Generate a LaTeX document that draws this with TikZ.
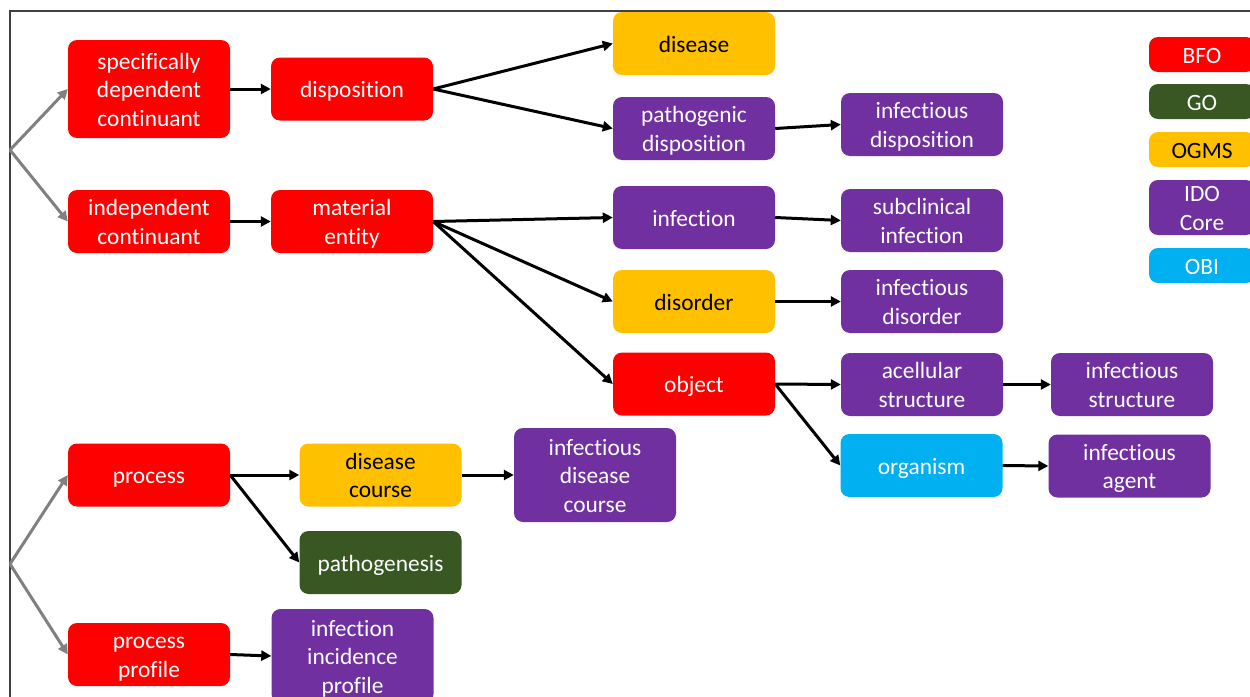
\documentclass[tikz,border=0pt]{standalone}
\usepackage{fontspec}
\setmainfont{Carlito}[Ligatures=NoCommon]
\usetikzlibrary{arrows.meta}
\definecolor{bfo}{HTML}{FF0000}
\definecolor{go}{HTML}{385723}
\definecolor{ogms}{HTML}{FFC000}
\definecolor{ido}{HTML}{7030A0}
\definecolor{obi}{HTML}{00B0F0}
\definecolor{framecol}{HTML}{404040}
\definecolor{graycol}{HTML}{808080}
\newcommand\tx[1]{\rule{0pt}{24pt}#1\rule[-7pt]{0pt}{7pt}}
\tikzset{
  box/.style={rounded corners=9pt, minimum width=162pt, minimum height=63pt, inner sep=0pt, align=center,
     font=\fontsize{23.4}{28.5}\selectfont, text=white},
  bfobox/.style={box, fill=bfo},
  gobox/.style={box, fill=go},
  ogmsbox/.style={box, fill=ogms, text=black},
  idobox/.style={box, fill=ido},
  obibox/.style={box, fill=obi},
  leg/.style={minimum width=106pt, minimum height=35pt},
  arr/.style={line width=3pt, -{Triangle[length=10pt,width=10pt]}},
  garr/.style={arr, draw=graycol, color=graycol},
}
\begin{document}
\begin{tikzpicture}[x=1pt,y=-1pt]
\useasboundingbox (0,0) rectangle (1250,696);
\draw[framecol, line width=2pt] (10,720) -- (10,11) -- (1270,11);

% legend
\node[bfobox, leg] (lbfo) at (1202,54.5) {\tx{BFO}};
\node[gobox, leg] (lgo) at (1202,101.5) {\tx{GO}};
\node[ogmsbox, leg] (logms) at (1202,149.5) {\tx{OGMS}};
\node[idobox, leg, minimum height=55pt] (lido) at (1202,207.5) {\rule{0pt}{20pt}IDO\\Core\rule[-3pt]{0pt}{3pt}};
\node[obibox, leg] (lobi) at (1202,265.5) {\tx{OBI}};

% nodes
\node[bfobox, minimum height=98pt] (sdc) at (149,89) {\tx{specifically\\dependent\\continuant}};
\node[bfobox] (disp) at (352,89) {\tx{disposition}};
\node[ogmsbox] (disease) at (694,43.5) {\tx{disease}};
\node[idobox] (pathdisp) at (694,128.5) {\tx{pathogenic\\disposition}};
\node[idobox] (infdisp) at (922,124.5) {\tx{infectious\\disposition}};
\node[bfobox] (ic) at (149,221.5) {\tx{independent\\continuant}};
\node[bfobox] (me) at (352,221.5) {\tx{material\\entity}};
\node[idobox] (infection) at (694,217.5) {\tx{infection}};
\node[idobox] (subinf) at (922,220.5) {\tx{subclinical\\infection}};
\node[ogmsbox] (disorder) at (694,301.5) {\tx{disorder}};
\node[idobox] (infdisorder) at (922,301.5) {\tx{infectious\\disorder}};
\node[bfobox] (object) at (694,384) {\tx{object}};
\node[idobox] (acell) at (922,384.5) {\tx{acellular\\structure}};
\node[idobox] (infstruct) at (1132,384.5) {\tx{infectious\\structure}};
\node[obibox] (organism) at (921.5,465.5) {\tx{organism}};
\node[idobox] (infagent) at (1129.5,466) {\tx{infectious\\agent}};
\node[bfobox] (process) at (149,475) {\tx{process}};
\node[ogmsbox] (dcourse) at (380.5,475) {\tx{disease\\course}};
\node[idobox, minimum height=94pt] (idcourse) at (595,475) {\tx{infectious\\disease\\course}};
\node[gobox] (pathogenesis) at (380.5,562.5) {\tx{pathogenesis}};
\node[bfobox] (pprofile) at (149,654.5) {\tx{process\\profile}};
\node[idobox, minimum height=94pt] (iiprofile) at (352.5,656) {\tx{infection\\incidence\\profile}};

\coordinate (g1) at (10,150);
\coordinate (g2) at (10,564);

% gray arrows
\draw[garr] (g1) -- (sdc.west);
\draw[garr] (g1) -- (ic.west);
\draw[garr] (g2) -- (process.west);
\draw[garr] (g2) -- (pprofile.west);

% black arrows
\draw[arr] (sdc.east) -- (disp.west);
\draw[arr] (disp.east) -- (disease.west);
\draw[arr] (disp.east) -- (pathdisp.west);
\draw[arr] (pathdisp.east) -- (infdisp.west);
\draw[arr] (ic.east) -- (me.west);
\draw[arr] (me.east) -- (infection.west);
\draw[arr] (me.east) -- (disorder.west);
\draw[arr] (me.east) -- (object.west);
\draw[arr] (infection.east) -- (subinf.west);
\draw[arr] (disorder.east) -- (infdisorder.west);
\draw[arr] (object.east) -- (acell.west);
\draw[arr] (object.east) -- (organism.west);
\draw[arr] (acell.east) -- (infstruct.west);
\draw[arr] (organism.east) -- (infagent.west);
\draw[arr] (process.east) -- (dcourse.west);
\draw[arr] (process.east) -- (pathogenesis.west);
\draw[arr] (dcourse.east) -- (idcourse.west);
\draw[arr] (pprofile.east) -- (iiprofile.west);
\end{tikzpicture}
\end{document}
